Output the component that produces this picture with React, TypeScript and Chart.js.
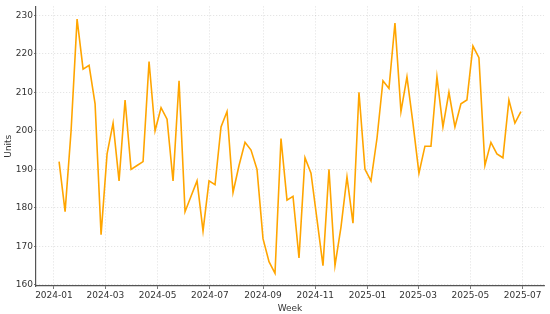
import React, { useEffect, useRef } from "react";
import { Chart, registerables } from "chart.js";

Chart.register(...registerables);

const startWeek = "2024-01-07";
const units = [
  192, 179, 200, 229, 216, 217, 207, 173, 194, 202, 187, 208, 190, 191, 192, 218,
  200, 206, 203, 187, 213, 179, 183, 187, 174, 187, 186, 201, 205, 184, 191, 197,
  195, 190, 172, 166, 163, 198, 182, 183, 167, 193, 189, 177, 165, 190, 165, 175,
  188, 176, 210, 190, 187, 198, 213, 211, 228, 205, 214, 202, 189, 196, 196, 214,
  201, 210, 201, 207, 208, 222, 219, 191, 197, 194, 193, 208, 202, 205,
];
const xTickLabels = [
  "2024-01", "2024-03", "2024-05", "2024-07", "2024-09",
  "2024-11", "2025-01", "2025-03", "2025-05", "2025-07",
];
const yTicks = [160, 170, 180, 190, 200, 210, 220, 230];

const DAY = 86400000;
const parseYM = (s: string) => {
  const [y, m] = s.split("-").map(Number);
  return Date.UTC(y, m - 1, 1);
};
const fmtYM = (v: number) => {
  const d = new Date(v);
  return `${d.getUTCFullYear()}-${String(d.getUTCMonth() + 1).padStart(2, "0")}`;
};

export default function App() {
  const ref = useRef<HTMLCanvasElement>(null);
  useEffect(() => {
    const t0 = Date.parse(startWeek + "T00:00:00Z");
    const points = units.map((v, i) => ({ x: t0 + i * 7 * DAY, y: v }));
    const xFirst = points[0].x;
    const xLast = points[points.length - 1].x;
    const xm = (xLast - xFirst) * 0.05;
    const ymin = Math.min(...units);
    const ymax = Math.max(...units);
    const ym = (ymax - ymin) * 0.05;
    const font = { family: "DejaVu Sans", size: 9 };
    const gridColor = "rgba(0,0,0,0.16)";
    const axisColor = "#555";
    const textColor = "#333";
    const chart = new Chart(ref.current!, {
      type: "line",
      data: {
        datasets: [
          {
            data: points,
            borderColor: "#FFA500",
            borderWidth: 1.6,
            pointRadius: 0,
            tension: 0,
            fill: false,
          },
        ],
      },
      options: {
        animation: false,
        responsive: false,
        maintainAspectRatio: false,
        layout: { padding: { top: 6, right: 6, left: 0, bottom: 0 } },
        plugins: { legend: { display: false }, tooltip: { enabled: false } },
        scales: {
          x: {
            type: "linear",
            min: xFirst - xm,
            max: xLast + xm,
            afterBuildTicks: (s: any) => {
              s.ticks = xTickLabels.map((l) => ({ value: parseYM(l) }));
            },
            afterFit: (s: any) => {
              s.height = 28;
            },
            ticks: {
              callback: (v: any) => fmtYM(Number(v)),
              font,
              color: textColor,
              padding: 1,
              maxRotation: 0,
              autoSkip: false,
            },
            grid: {
              color: gridColor,
              lineWidth: 0.8,
              tickColor: axisColor,
              tickLength: 3,
            },
            border: { display: true, color: axisColor, width: 1.2, dash: [1, 2] },
            title: {
              display: true,
              text: "Week",
              font,
              color: textColor,
              padding: { top: 4, bottom: 0 },
            },
          },
          y: {
            type: "linear",
            min: ymin - ym,
            max: ymax + ym,
            afterBuildTicks: (s: any) => {
              s.ticks = yTicks.map((v) => ({ value: v }));
            },
            afterFit: (s: any) => {
              s.width = 36;
            },
            ticks: { font, color: textColor, padding: 1 },
            grid: {
              color: gridColor,
              lineWidth: 0.8,
              tickColor: axisColor,
              tickLength: 2,
            },
            border: { display: true, color: axisColor, width: 1.2, dash: [1, 2] },
            title: {
              display: true,
              text: "Units",
              font,
              color: textColor,
              padding: { top: 3, bottom: 0 },
            },
          },
        },
      },
    });
    return () => chart.destroy();
  }, []);
  return (
    <div style={{ position: "absolute", left: 0, top: 0, width: 550, height: 314, background: "#fff" }}>
      <canvas ref={ref} width={550} height={314} />
    </div>
  );
}
